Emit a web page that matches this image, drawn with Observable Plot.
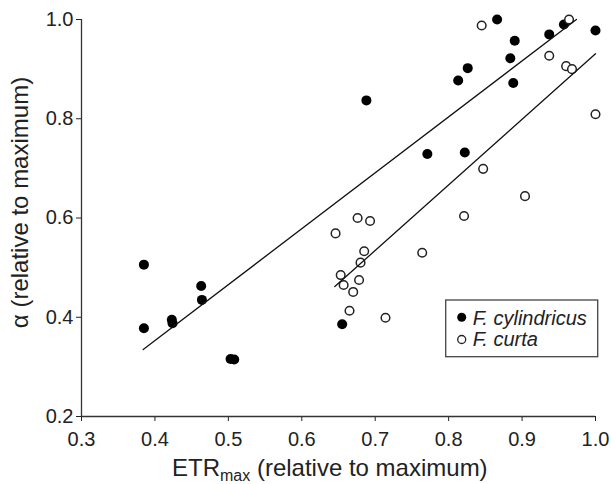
<!DOCTYPE html>
<html><head><meta charset="utf-8">
<script src="https://cdn.jsdelivr.net/npm/d3@7"></script>
<script src="https://cdn.jsdelivr.net/npm/@observablehq/plot@0.6"></script>
<style>
html,body{margin:0;padding:0;background:#fff;}
</style>
</head><body>
<div id="chart"></div>
<script>
// F. cylindricus (filled)
const cylX = [0.385,0.385,0.423,0.424,0.463,0.464,0.503,0.508,0.655,0.688,0.771,0.813,0.822,0.826,0.866,0.884,0.888,0.890,0.937,0.957,1.000];
const cylY = [0.506,0.378,0.395,0.388,0.463,0.435,0.316,0.315,0.386,0.837,0.729,0.877,0.732,0.902,1.000,0.922,0.872,0.957,0.970,0.990,0.978];
// F. curta (open)
const curX = [0.845,0.964,0.937,0.960,0.968,1.000,0.847,0.904,0.821,0.676,0.693,0.646,0.685,0.680,0.764,0.653,0.657,0.678,0.670,0.665,0.714];
const curY = [0.988,1.000,0.927,0.906,0.900,0.809,0.699,0.644,0.604,0.600,0.594,0.569,0.533,0.510,0.530,0.485,0.465,0.475,0.451,0.413,0.399];
// fitted lines (end points)
const fitCylX = [0.384, 0.974];
const fitCylY = [0.335, 1.000];
const fitCurX = [0.645, 1.000];
const fitCurY = [0.462, 0.931];

const xTicks = [0.3,0.4,0.5,0.6,0.7,0.8,0.9,1.0];
const yTicks = [0.2,0.4,0.6,0.8,1.0];
const seriesNames = ["F. cylindricus","F. curta"];
const xLabelMain = "ETR", xLabelSub = "max", xLabelRest = " (relative to maximum)";
const yLabel = "α (relative to maximum)";

const cyl = cylX.map((x,i)=>({x, y: cylY[i]}));
const cur = curX.map((x,i)=>({x, y: curY[i]}));
const fitCyl = fitCylX.map((x,i)=>({x, y: fitCylY[i]}));
const fitCur = fitCurX.map((x,i)=>({x, y: fitCurY[i]}));

const plot = Plot.plot({
  width: 611, height: 484,
  marginLeft: 81, marginRight: 16, marginTop: 19, marginBottom: 68,
  style: {fontFamily: "'Liberation Sans', Arial, sans-serif", fontSize: "20px", color: "#222", background: "#fff", overflow: "visible"},
  x: {domain: [0.3, 1.0], ticks: xTicks, tickFormat: d3.format(".1f"), tickSize: 5, tickPadding: 10, label: null},
  y: {domain: [0.2, 1.0], ticks: yTicks, tickFormat: d3.format(".1f"), tickSize: 5, tickPadding: 3, label: null},
  marks: [
    Plot.ruleX([0.3], {stroke: "#333", strokeWidth: 1.3}),
    Plot.ruleY([0.2], {stroke: "#333", strokeWidth: 1.3}),
    Plot.dot(cyl, {x: "x", y: "y", r: 5, fill: "#000", stroke: "none"}),
    Plot.dot(cur, {x: "x", y: "y", r: 4.3, fill: "#fff", stroke: "#222", strokeWidth: 1.5}),
    Plot.line(fitCyl, {x: "x", y: "y", stroke: "#111", strokeWidth: 1.3}),
    Plot.line(fitCur, {x: "x", y: "y", stroke: "#111", strokeWidth: 1.3})
  ]
});
document.getElementById("chart").appendChild(plot);

const svg = d3.select(plot);
// x label
const xl = svg.append("text").attr("x", 172).attr("y", 476).attr("text-anchor", "start")
  .attr("font-size", 24).attr("fill", "#222");
xl.append("tspan").text(xLabelMain);
xl.append("tspan").attr("font-size", 16).attr("dy", 5).text(xLabelSub);
xl.append("tspan").attr("font-size", 24).attr("dy", -5).text(xLabelRest);
// y label
svg.append("text").attr("transform", "translate(28,202.5) rotate(-90)")
  .attr("text-anchor", "middle").attr("font-size", 24).attr("fill", "#222").text(yLabel);
// legend
const lg = svg.append("g").attr("text-anchor", "start");
lg.append("rect").attr("x", 445.7).attr("y", 300).attr("width", 152).attr("height", 56.7)
  .attr("fill", "#fff").attr("stroke", "#444").attr("stroke-width", 1.3);
lg.append("circle").attr("cx", 461.7).attr("cy", 317.3).attr("r", 4.5).attr("fill", "#000");
lg.append("circle").attr("cx", 461.7).attr("cy", 339.5).attr("r", 4).attr("fill", "#fff")
  .attr("stroke", "#222").attr("stroke-width", 1.3);
lg.append("text").attr("x", 472.7).attr("y", 324.5).attr("text-anchor", "start").attr("font-size", 20).attr("font-style", "italic")
  .attr("fill", "#222").text(seriesNames[0]);
lg.append("text").attr("x", 472.7).attr("y", 345.5).attr("text-anchor", "start").attr("font-size", 20).attr("font-style", "italic")
  .attr("fill", "#222").text(seriesNames[1]);
</script>
</body></html>
